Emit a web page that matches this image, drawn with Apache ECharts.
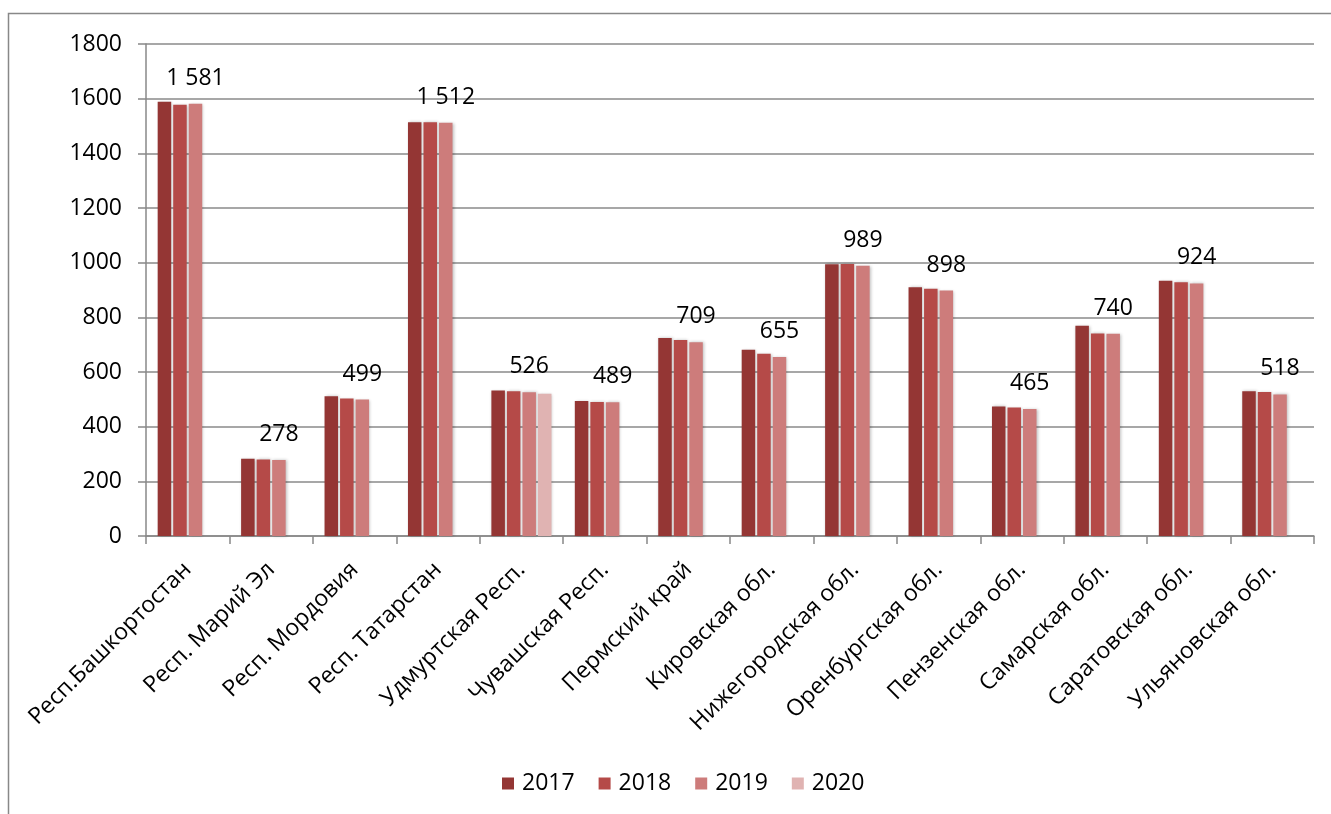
<!DOCTYPE html>
<html>
<head>
<meta charset="utf-8">
<script src="https://cdn.jsdelivr.net/npm/echarts@6/dist/echarts.min.js"></script>
<style>
  html, body { margin: 0; padding: 0; background: #fff; }
  #main { width: 1331px; height: 814px; }
</style>
</head>
<body>
<div id="main"></div>
<script>
// регионы
const regions = [
  'Респ.Башкортостан', 'Респ. Марий Эл', 'Респ. Мордовия', 'Респ. Татарстан',
  'Удмуртская Респ.', 'Чувашская Респ.', 'Пермский край', 'Кировская обл.',
  'Нижегородская обл.', 'Оренбургская обл.', 'Пензенская обл.', 'Самарская обл.',
  'Саратовская обл.', 'Ульяновская обл.'
];

const years = ['2017', '2018', '2019', '2020'];

const v2017 = [1589, 283, 511, 1514, 532, 494, 724, 681, 994, 910, 474, 769, 934, 530];
const v2018 = [1578, 280, 503, 1514, 530, 490, 717, 667, 995, 905, 470, 741, 928, 527];
const v2019 = [1581, 278, 499, 1512, 526, 489, 709, 655, 989, 898, 465, 740, 924, 518];
const v2020 = [null, null, null, null, 520, null, null, null, null, null, null, null, null, null];

const yTicks = { min: 0, max: 1800, interval: 200 };

const colors = ['#943634', '#B54A48', '#CD7C7B', '#E0B3B2'];
const FONT = 'Open Sans';

const chart = echarts.init(document.getElementById('main'), null, { renderer: 'canvas' });

// пробел как разделитель тысяч
function fmt(v) {
  return String(v).replace(/\B(?=(\d{3})+(?!\d))/g, ' ');
}

const allValues = [v2017, v2018, v2019, v2020];

const series = years.map((y, i) => ({
  name: y,
  type: 'bar',
  data: allValues[i],
  barGap: '15%',
  barCategoryGap: '28%',
  itemStyle: {
    color: colors[i],
    shadowColor: 'rgba(0,0,0,0.25)',
    shadowBlur: 3,
    shadowOffsetX: 1,
    shadowOffsetY: 0
  },
  label: i === 2 ? {
    show: true,
    position: 'top',
    distance: 14,
    color: '#000',
    fontFamily: FONT,
    fontSize: 23,
    formatter: p => fmt(p.value)
  } : { show: false }
}));

chart.setOption({
  backgroundColor: '#fff',
  animation: false,
  graphic: [{
    type: 'rect',
    shape: { x: 8.5, y: 13.5, width: 1400, height: 900 },
    style: { fill: 'none', stroke: '#888', lineWidth: 1.5 },
    z: -1
  }],
  legend: {
    data: years,
    left: 497,
    top: 767,
    itemWidth: 12,
    itemHeight: 12,
    itemGap: 24,
    icon: 'rect',
    textStyle: { fontFamily: FONT, fontSize: 23, color: '#000', padding: [0, 0, 0, 3] }
  },
  grid: { left: 146, right: 17, top: 44, bottom: 278, containLabel: false },
  xAxis: {
    type: 'category',
    data: regions,
    axisLine: { lineStyle: { color: '#888', width: 1.5 } },
    axisTick: { show: true, length: 8, lineStyle: { color: '#888', width: 1.5 } },
    axisLabel: {
      rotate: 45,
      interval: 0,
      margin: 30,
      color: '#000',
      fontFamily: FONT,
      fontSize: 23
    }
  },
  yAxis: {
    type: 'value',
    min: yTicks.min,
    max: yTicks.max,
    interval: yTicks.interval,
    axisLine: { show: true, lineStyle: { color: '#888', width: 1.5 } },
    axisTick: { show: true, length: 8, lineStyle: { color: '#888', width: 1.5 } },
    axisLabel: { margin: 24, color: '#000', fontFamily: FONT, fontSize: 23, formatter: v => String(v) },
    splitLine: { lineStyle: { color: '#8a8a8a', width: 1.5 } }
  },
  series: series
});
</script>
</body>
</html>
